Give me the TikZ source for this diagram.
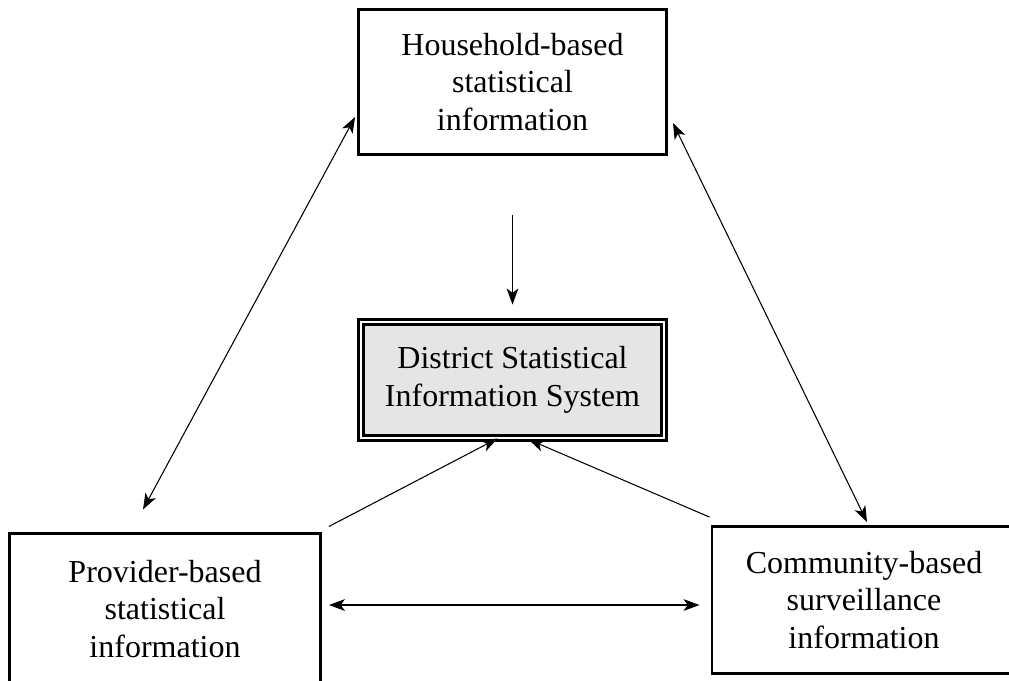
\documentclass[tikz,border=0pt]{standalone}
\usepackage{fontspec}
\setmainfont{Liberation Serif}
\usetikzlibrary{arrows.meta}

\tikzset{
  infobox/.style={draw, line width=1.1pt, align=center, font=\fontsize{12}{14}\selectfont, inner sep=0pt},
  sysbox/.style={infobox, fill=black!10, double, double distance=0.75pt},
  link/.style={line width=0.4pt, -{Stealth[length=6pt,width=4.4pt,inset=1.6pt]}},
  twoway/.style={line width=0.4pt, {Stealth[length=6pt,width=4.4pt,inset=1.6pt]}-{Stealth[length=6pt,width=4.4pt,inset=1.6pt]}}
}

\begin{document}
\begin{tikzpicture}[x=0.375pt, y=-0.375pt]
    \useasboundingbox (0,0) rectangle (1009,680);

    % Four boxes
    \node[infobox, minimum width=115.5pt, minimum height=54.4pt] (hh) at (512.5,82)
        {Household-based\\statistical\\information};
    \node[sysbox, minimum width=113.6pt, minimum height=43.5pt] (dsis) at (512.5,380)
        {District Statistical\\Information System};
    \node[infobox, minimum width=116.6pt, minimum height=56.3pt] (pv) at (165,609)
        {Provider-based\\statistical\\information};
    \node[infobox, minimum width=114pt, minimum height=55.1pt] (cm) at (864,600)
        {Community-based\\surveillance\\information};

    % Arrows into the system
    \draw[link] ([shift={(0,59)}]hh.south) -- ([shift={(0,-16)}]dsis.north);
    \draw[link] ([shift={(7,-6)}]pv.north east) -- ([shift={(-15,-1)}]dsis.south);
    \draw[link] ([shift={(-1,-8)}]cm.north west) -- ([shift={(16,0)}]dsis.south);

    % Two-way links between the sources
    \draw[twoway] ([shift={(-2,35)}]hh.west) -- ([shift={(-22,-23)}]pv.north);
    \draw[twoway] ([shift={(5,41)}]hh.east) -- ([shift={(3,-3)}]cm.north);
    \draw[twoway] ([shift={(7,-4)}]pv.east) -- ([shift={(-11,5)}]cm.west);
\end{tikzpicture}
\end{document}
